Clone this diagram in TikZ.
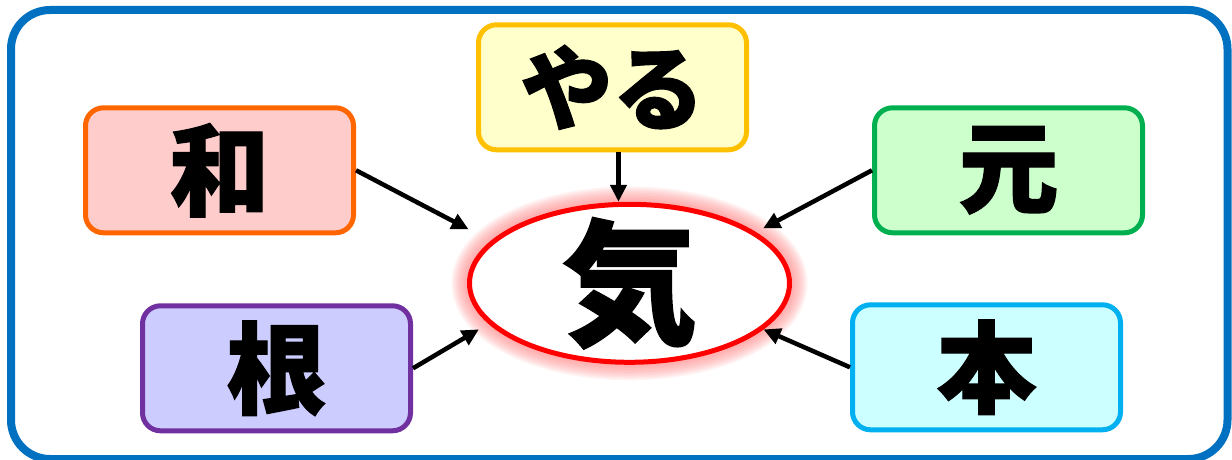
\documentclass[tikz,border=0pt]{standalone}
\usepackage{fontspec}
\newfontfamily\jpfont{Noto Sans CJK JP}[BoldFeatures={FakeBold=1.2}]
\usepackage{tikz}
\usetikzlibrary{shapes.geometric,positioning,backgrounds,arrows.meta}
\definecolor{frameblue}{HTML}{0070C0}
\definecolor{waline}{HTML}{FF6600}
\definecolor{wafill}{HTML}{FFCCCC}
\definecolor{yaline}{HTML}{FFC000}
\definecolor{yafill}{HTML}{FFFFCC}
\definecolor{geline}{HTML}{00B050}
\definecolor{gefill}{HTML}{CCFFCC}
\definecolor{neline}{HTML}{7030A0}
\definecolor{nefill}{HTML}{CCCCFF}
\definecolor{holine}{HTML}{00B0F0}
\definecolor{hofill}{HTML}{CCFFFF}

\begin{document}
\begin{tikzpicture}[on grid,x=1pt,y=1pt]
	\tikzstyle{word}=[rectangle,draw,rounded corners=18pt,line width=5pt,minimum width=268pt,minimum height=125pt,inner sep=0pt,font=\jpfont\bfseries\fontsize{100}{100}\selectfont]
	\tikzstyle{centre}=[ellipse,draw=red,fill=white,line width=5pt,minimum width=320pt,minimum height=158pt,inner sep=0pt]
	\tikzstyle{pointer}=[line width=4.5pt,-{Triangle[length=17pt,width=16pt]}]
	
	\useasboundingbox (0,0) rectangle (1232,459);
	\draw [frameblue,line width=8pt,rounded corners=39pt] (11,0) rectangle (1227.5,449);
	
	%
	% centre word
	%
	\node [centre] (ki) at (629.5,175.7) {};
	\node [font=\jpfont\bfseries\fontsize{135}{135}\selectfont] (ki-text) at (ki.center) {気};
	
	\begin{scope}[on background layer]
		\foreach \w in {36,33,...,9}
			\draw [red!50,opacity=0.09,line width=\w pt] (ki.center) ellipse [x radius=160,y radius=79];
	\end{scope}
	
	%
	% surrounding words
	%
	\node [word,draw=waline,fill=wafill,above left=113pt and 410pt of ki] (wa) {和};
	\node [word,draw=yaline,fill=yafill,above left=196pt and 17pt of ki,font=\jpfont\bfseries\fontsize{92}{92}\selectfont] (yaru) {やる};
	\node [word,draw=geline,fill=gefill,above right=113pt and 379pt of ki] (gen) {元};
	\node [word,draw=neline,fill=nefill,below left=85pt and 353pt of ki] (ne) {根};
	\node [word,draw=holine,fill=hofill,below right=84pt and 357pt of ki] (hon) {本};
	
	%
	% arrows into the centre
	%
	\begin{scope}[pointer]
		\draw [shorten >=25pt] (wa.east) -- (ki.163);
		\draw ([xshift=6pt]yaru.south) -- ([xshift=6pt]yaru.south |- ki.north);
		\draw [shorten >=8pt] (gen.west) -- (ki.22);
		\draw [shorten >=11pt] (ne.east) -- (ki.196);
		\draw (hon.west) -- (ki.341);
	\end{scope}
	
\end{tikzpicture}
\end{document}
